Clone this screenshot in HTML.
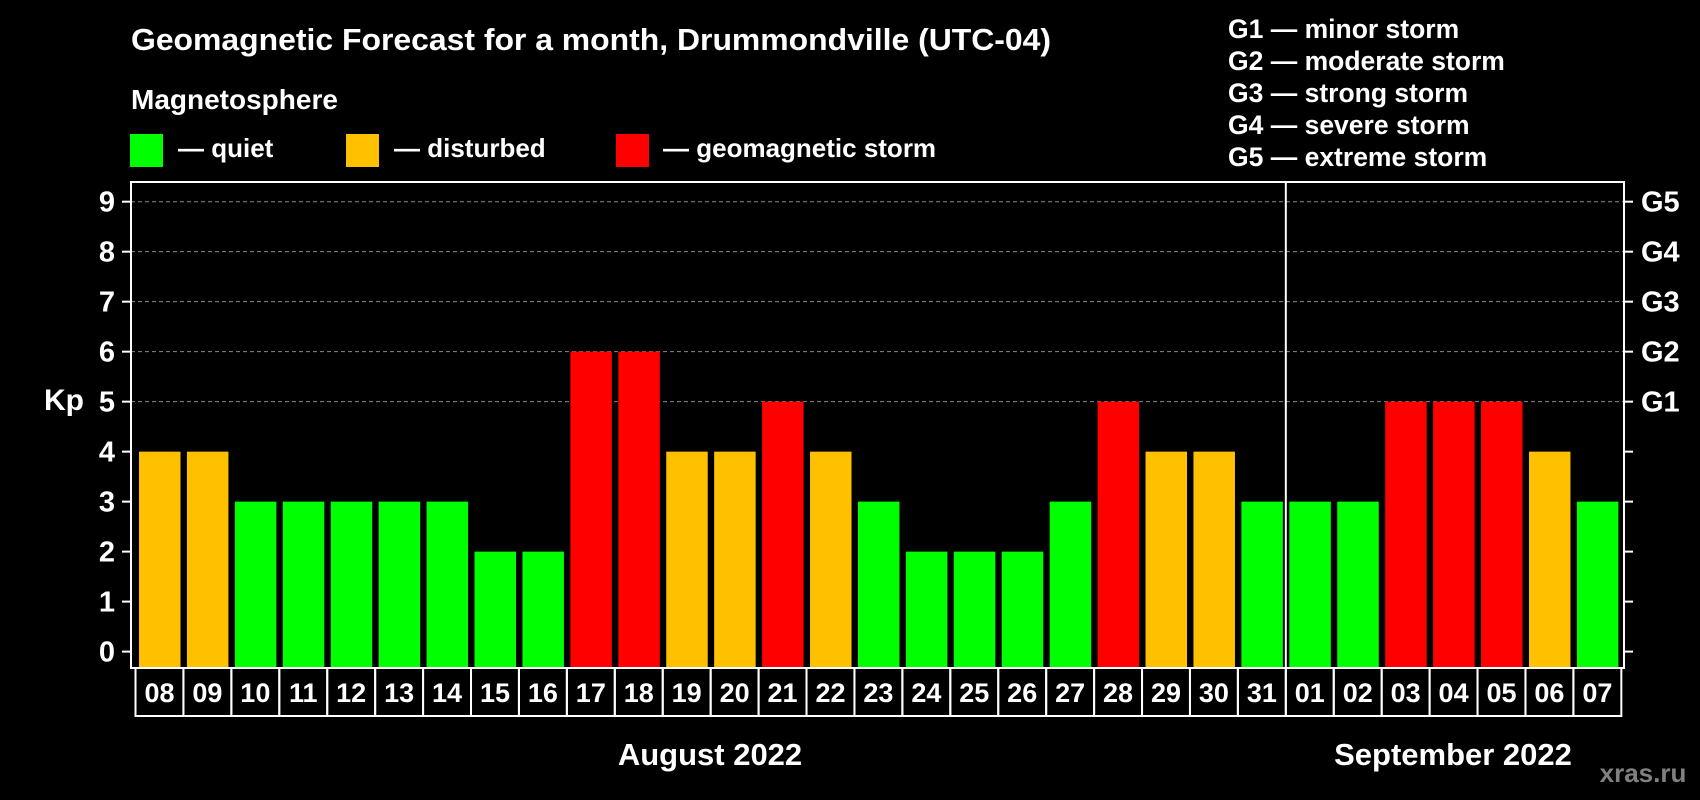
<!DOCTYPE html>
<html><head><meta charset="utf-8">
<style>
html,body{margin:0;padding:0;background:#000;}
svg{display:block;font-family:"Liberation Sans",Arial,sans-serif;font-weight:bold;}
</style></head>
<body>
<svg id="chart" width="1700" height="800" viewBox="0 0 1700 800" xmlns="http://www.w3.org/2000/svg">
<rect width="1700" height="800" fill="#000"/>
<text x="131" y="50" fill="#fff" font-size="31" textLength="920" lengthAdjust="spacingAndGlyphs">Geomagnetic Forecast for a month, Drummondville (UTC-04)</text>
<text x="131" y="109" fill="#fff" font-size="28">Magnetosphere</text>
<g>
<rect x="130" y="134" width="33" height="33" fill="#00ff00"/>
<text x="178" y="157" fill="#fff" font-size="26">— quiet</text></g>
<g>
<rect x="346" y="134" width="33" height="33" fill="#ffc000"/>
<text x="394" y="157" fill="#fff" font-size="26">— disturbed</text></g>
<g>
<rect x="616" y="134" width="33" height="33" fill="#ff0000"/>
<text x="663" y="157" fill="#fff" font-size="26">— geomagnetic storm</text></g>
<g fill="#fff" font-size="26.5">
<text x="1228" y="38">G1 — minor storm</text>
<text x="1228" y="70">G2 — moderate storm</text>
<text x="1228" y="102">G3 — strong storm</text>
<text x="1228" y="134">G4 — severe storm</text>
<text x="1228" y="166">G5 — extreme storm</text>
</g>
<text x="64" y="410" fill="#fff" font-size="30" text-anchor="middle">Kp</text>
<g id="grid"></g>
<g id="bars"></g>
<g id="axes"></g>
<text x="710" y="765" fill="#fff" font-size="31" text-anchor="middle">August 2022</text>
<text x="1453" y="765" fill="#fff" font-size="31" text-anchor="middle">September 2022</text>
<text x="1643" y="782" fill="#808080" font-size="26" text-anchor="middle">xras.ru</text>
</svg>
<script>
const days = ["08","09","10","11","12","13","14","15","16","17","18","19","20","21","22","23","24","25","26","27","28","29","30","31","01","02","03","04","05","06","07"];
const kpValues = [4,4,3,3,3,3,3,2,2,6,6,4,4,5,4,3,2,2,2,3,5,4,4,3,3,3,5,5,5,4,3];
const yTicks = [0,1,2,3,4,5,6,7,8,9];
const gLabels = ["G1","G2","G3","G4","G5"];
const monthBreakIndex = 24;

const NS = "http://www.w3.org/2000/svg";
const plotL = 131, plotR = 1624, plotT = 182, plotB = 668;
const slotX0 = 135.5, slotW = 47.93;
function y(v){ return 651.6 - v * 49.99; }
function x(i){ return slotX0 + i * slotW; }
function color(v){ return v >= 5 ? "#ff0000" : (v >= 4 ? "#ffc000" : "#00ff00"); }
function mk(tag, attrs, parent){ const e = document.createElementNS(NS, tag); for (const k in attrs) e.setAttribute(k, attrs[k]); parent.appendChild(e); return e; }

const grid = document.getElementById("grid");
const bars = document.getElementById("bars");
const axes = document.getElementById("axes");

yTicks.forEach(t => {
  if (t >= 5) {
    const gl = mk("line", {x1: plotL, x2: plotR, y1: y(t), y2: y(t), stroke: "#888", "stroke-width": 1, "stroke-dasharray": "4,3"}, grid);
    
    
  }
  const tl = mk("line", {x1: plotL - 9, x2: plotL, y1: y(t), y2: y(t), stroke: "#fff", "stroke-width": 2}, axes);
  
  
  const rt = mk("line", {x1: plotR, x2: plotR + 9, y1: y(t), y2: y(t), stroke: "#fff", "stroke-width": 2}, axes);
  
  
  const lbl = mk("text", {x: 107, y: y(t) + 10, fill: "#fff", "font-size": 29, "text-anchor": "middle"}, axes);
  lbl.textContent = t;
  
  
});
gLabels.forEach((g, i) => {
  const lbl = mk("text", {x: 1641, y: y(5 + i) + 10, fill: "#fff", "font-size": 29}, axes);
  lbl.textContent = g;
  
  
});

kpValues.forEach((v, i) => {
  const b = mk("rect", {x: x(i) + 3.5, y: y(v), width: 41.5, height: plotB - y(v), fill: color(v)}, bars);
  
  
  const box = mk("rect", {x: x(i), y: plotB, width: slotW, height: 48, fill: "none", stroke: "#fff", "stroke-width": 2}, axes);
  
  
  const dl = mk("text", {x: x(i) + slotW / 2, y: plotB + 34, fill: "#fff", "font-size": 27, "text-anchor": "middle"}, axes);
  dl.textContent = days[i];
  
  
});

const frame = mk("rect", {x: plotL, y: plotT, width: plotR - plotL, height: plotB - plotT, fill: "none", stroke: "#fff", "stroke-width": 2}, axes);


const sep = mk("line", {x1: x(monthBreakIndex), x2: x(monthBreakIndex), y1: plotT, y2: plotB, stroke: "#fff", "stroke-width": 2}, axes);


</script>
</body></html>
